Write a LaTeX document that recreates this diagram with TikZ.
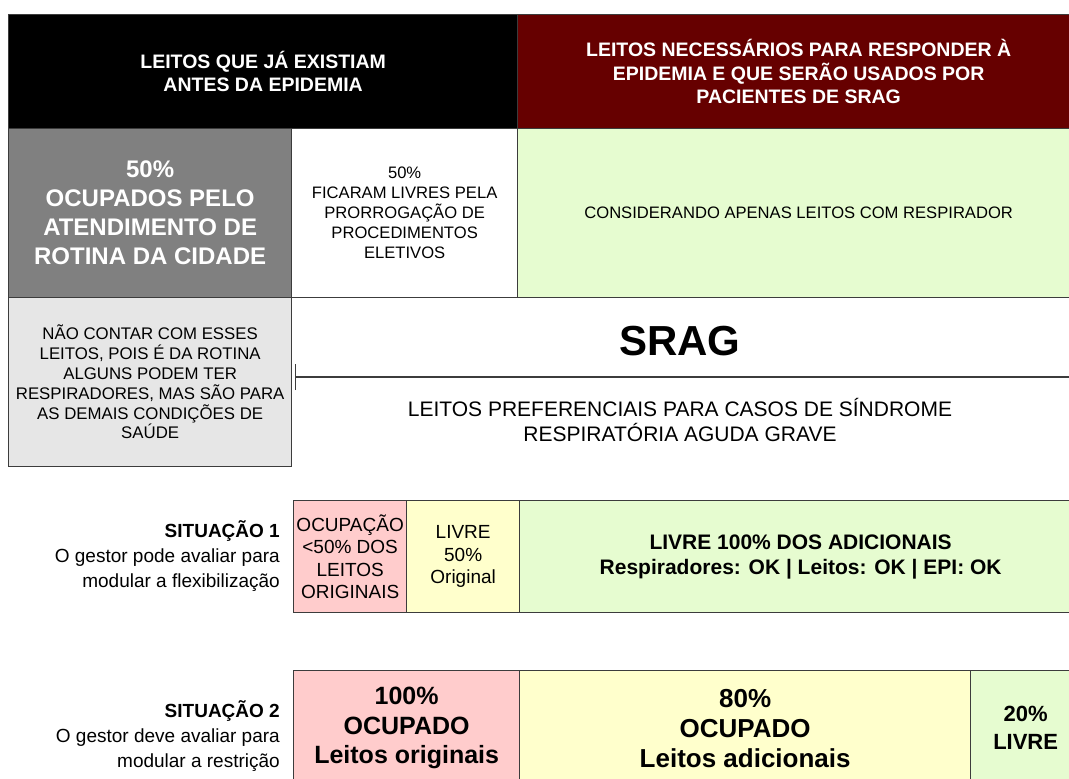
\documentclass[tikz,border=0pt]{standalone}
\usepackage{fontspec}
\setmainfont{Liberation Sans}
\usepackage{tikz}
\usetikzlibrary{positioning,arrows.meta}
\definecolor{sgdarkred}{RGB}{102,0,0}
\definecolor{sggray}{RGB}{128,128,128}
\definecolor{sglightgray}{RGB}{230,230,230}
\definecolor{sggreen}{RGB}{230,252,208}
\definecolor{sgpink}{RGB}{255,204,204}
\definecolor{sgyellow}{RGB}{255,255,204}
\definecolor{sgline}{RGB}{60,60,60}
\tikzstyle{cell} = [rectangle, anchor=north west, draw=sgline, line width=1.3pt, inner sep=0pt, align=center]
\tikzstyle{hdrfont} = [font=\fontsize{19.5}{23.5}\selectfont\bfseries]
\tikzstyle{smallfont} = [font=\fontsize{16.6}{20}\selectfont]
\tikzstyle{midfont} = [font=\fontsize{19}{22.5}\selectfont]
\tikzstyle{bigbold} = [font=\fontsize{24}{29}\selectfont\bfseries]
\tikzstyle{sitlabel} = [anchor=east, align=right, inner sep=0pt, font=\fontsize{19}{25}\selectfont]

\begin{document}
\begin{tikzpicture}[x=1pt, y=-1pt]
    \useasboundingbox (0,0) rectangle (1069,779);
    \clip (0,0) rectangle (1069,779);

    % Header boxes
    \node[cell, hdrfont, fill=black, text=white, minimum width=509, minimum height=114] (hdrold) at (8,14) {LEITOS QUE JÁ EXISTIAM\\ANTES DA EPIDEMIA};
    \node[cell, hdrfont, fill=sgdarkred, text=white, minimum width=562, minimum height=114] (hdrnew) at (517,14) {LEITOS NECESSÁRIOS PARA RESPONDER À\\EPIDEMIA E QUE SERÃO USADOS POR\\PACIENTES DE SRAG};

    % Existing beds
    \node[cell, bigbold, fill=sggray, text=white, minimum width=283, minimum height=169] (rotina) at (8,128) {50\%\\OCUPADOS PELO\\ATENDIMENTO DE\\ROTINA DA CIDADE};
    \node[cell, smallfont, fill=white, minimum width=226, minimum height=169] (eletivos) at (291,128) {50\%\\FICARAM LIVRES PELA\\PRORROGAÇÃO DE\\PROCEDIMENTOS\\ELETIVOS};
    \node[cell, smallfont, fill=sggreen, minimum width=562, minimum height=169] (respir) at (517,128) {CONSIDERANDO APENAS LEITOS COM RESPIRADOR};
    \node[cell, font=\fontsize{16.8}{19.8}\selectfont, fill=sglightgray, minimum width=283, minimum height=169] (naoconta) at (8,297) {NÃO CONTAR COM ESSES\\LEITOS, POIS É DA ROTINA\\ALGUNS PODEM TER\\RESPIRADORES, MAS SÃO PARA\\AS DEMAIS CONDIÇÕES DE\\SAÚDE};

    % SRAG span
    \node[font=\fontsize{42}{46}\selectfont\bfseries, inner sep=0pt] (srag) at (680,341) {SRAG};
    \coordinate (bar) at (295,377);
    \coordinate (barend) at (1079,377);
    \draw[{Bar[width=26pt]}-, line width=1.2pt, color=sgline] (bar) -- (barend);
    \node[font=\fontsize{21}{25}\selectfont, align=center, inner sep=0pt] (sragdesc) at (680,420) {LEITOS PREFERENCIAIS PARA CASOS DE SÍNDROME\\RESPIRATÓRIA AGUDA GRAVE};

    % Situation 1
    \node[sitlabel] (sit1lbl) at (280,556) {\textbf{SITUAÇÃO 1}\\O gestor pode avaliar para\\modular a flexibilização};
    \node[cell, midfont, fill=sgpink, minimum width=113, minimum height=112] (s1occ) at (293,500) {OCUPAÇÃO\\<50\% DOS\\LEITOS\\ORIGINAIS};
    \node[cell, midfont, fill=sgyellow, minimum width=113, minimum height=112] (s1orig) at (406,500) {LIVRE\\50\%\\Original};
    \node[cell, font=\fontsize{21}{25}\selectfont\bfseries, fill=sggreen, minimum width=562, minimum height=112] (s1add) at (519,500) {LIVRE 100\% DOS ADICIONAIS\\Respiradores: OK | Leitos: OK | EPI: OK};

    % Situation 2
    \node[sitlabel] (sit2lbl) at (280,736) {\textbf{SITUAÇÃO 2}\\O gestor deve avaliar para\\modular a restrição};
    \node[cell, font=\fontsize{25}{29.5}\selectfont\bfseries, fill=sgpink, minimum width=226, minimum height=115] (s2occ) at (293,670) {100\%\\OCUPADO\\Leitos originais};
    \node[cell, font=\fontsize{26}{30}\selectfont\bfseries, fill=sgyellow, minimum width=451, minimum height=115] (s2add) at (519,670) {80\%\\OCUPADO\\Leitos adicionais};
    \node[cell, font=\fontsize{22}{28}\selectfont\bfseries, fill=sggreen, minimum width=110, minimum height=115] (s2free) at (970,670) {20\%\\LIVRE};
\end{tikzpicture}
\end{document}
